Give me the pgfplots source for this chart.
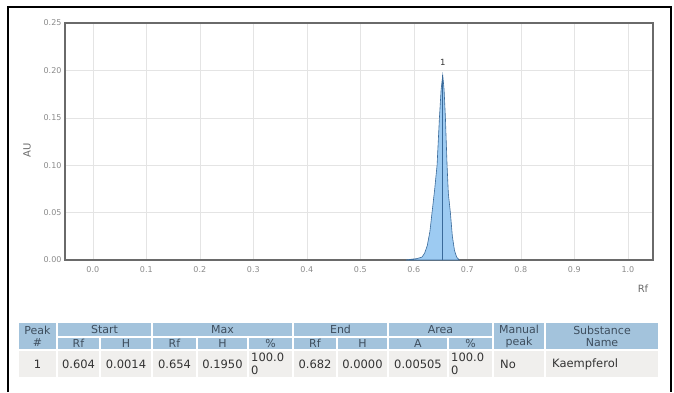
\documentclass[border=0pt]{standalone}
\usepackage{fontspec}
\setmainfont{DejaVu Sans}
\usepackage{pgfplots}
\pgfplotsset{compat=1.18}
\definecolor{hdr}{HTML}{A3C3DC}
\definecolor{hdrtext}{HTML}{3E4E5E}
\definecolor{rowbg}{HTML}{F0EFED}
\definecolor{txt}{HTML}{333333}
\definecolor{peakfill}{HTML}{9DCBF2}
\definecolor{peakline}{HTML}{3A6A9A}
\definecolor{axisgray}{HTML}{6A6A6A}
\definecolor{gridgray}{HTML}{E4E4E4}
\definecolor{ticktext}{HTML}{8A8A8A}
\newcommand{\hcell}[5]{%
  \fill[hdr] (#1+1,#3+1) rectangle (#2-1,#4-1);
  \node[text=hdrtext,font=\fontsize{11}{12}\selectfont,align=center] at ({(#1+#2)/2},{(#3+#4)/2}) {#5};}
\newcommand{\dcell}[3]{%
  \fill[rowbg] (#1+1,15) rectangle (#2-1,41);
  \node[text=txt,font=\fontsize{11.5}{13}\selectfont,align=center] at ({(#1+#2)/2},28) {#3};}
\begin{document}
\begin{tikzpicture}[x=1pt,y=1pt]
\useasboundingbox (0,0) rectangle (674,392);
\draw[line width=2.5pt] (8,0) -- (8,385) -- (671,385) -- (671,0);
\coordinate (axpos) at (65,132);
\begin{axis}[at={(axpos)}, anchor=south west, scale only axis,
  width=588pt, height=237pt,
  xmin=-0.052, xmax=1.047, ymin=0, ymax=0.25,
  xtick={0,0.1,...,1.0}, ytick={0,0.05,0.1,0.15,0.2,0.25},
  grid=major, major grid style={gridgray, line width=0.6pt},
  axis line style={axisgray, line width=1.6pt},
  major tick length=0pt,
  tick label style={text=ticktext, font=\fontsize{8}{9}\selectfont},
  /pgf/number format/assume math mode=true,
  xticklabel style={yshift=-3pt, /pgf/number format/.cd, fixed, fixed zerofill, precision=1},
  yticklabel style={/pgf/number format/.cd, fixed, fixed zerofill, precision=2},
  xtick pos=bottom, ytick pos=left,
]
\addplot[fill=peakfill, draw=peakline, line width=0.6pt] coordinates {
  (0.585,0) (0.595,0.0008) (0.605,0.0014) (0.615,0.003) (0.620,0.007)
  (0.625,0.015) (0.630,0.030) (0.634,0.050) (0.639,0.075) (0.6434,0.100)
  (0.6478,0.150) (0.651,0.180) (0.654,0.195) (0.6565,0.180) (0.659,0.150)
  (0.6621,0.100) (0.6645,0.070) (0.6683,0.050) (0.672,0.025) (0.676,0.010)
  (0.680,0.003) (0.685,0)} \closedcycle;
\addplot[peakline, line width=1.1pt] coordinates {(0.654,0) (0.654,0.195)};
\node[font=\fontsize{8.5}{9}\selectfont, text=txt] at (axis cs:0.654,0.208) {1};
\end{axis}
\node[rotate=90, text=axisgray, font=\fontsize{10}{11}\selectfont] at (27,242) {AU};
\node[text=axisgray, font=\fontsize{10}{11}\selectfont] at (643,103) {Rf};
% table header
\hcell{18}{57}{42}{70}{Peak\\\#}
\hcell{57}{152}{55}{70}{Start}
\hcell{57}{100}{42}{55}{Rf}
\hcell{100}{152}{42}{55}{H}
\hcell{152}{293}{55}{70}{Max}
\hcell{152}{197}{42}{55}{Rf}
\hcell{197}{248}{42}{55}{H}
\hcell{248}{293}{42}{55}{\%}
\hcell{293}{388}{55}{70}{End}
\hcell{293}{337}{42}{55}{Rf}
\hcell{337}{388}{42}{55}{H}
\hcell{388}{493}{55}{70}{Area}
\hcell{388}{448}{42}{55}{A}
\hcell{448}{493}{42}{55}{\%}
\hcell{493}{545}{42}{70}{Manual\\peak}
\hcell{545}{659}{42}{70}{Substance\\Name}
% data row
\dcell{18}{57}{1}
\dcell{57}{100}{0.604}
\dcell{100}{152}{0.0014}
\dcell{152}{197}{0.654}
\dcell{197}{248}{0.1950}
\fill[rowbg] (249,15) rectangle (292,41);
\node[text=txt,font=\fontsize{11.5}{13}\selectfont,align=left,anchor=west,inner sep=0pt] at (251,28) {100.0\\0};
\dcell{293}{337}{0.682}
\dcell{337}{388}{0.0000}
\dcell{388}{448}{0.00505}
\fill[rowbg] (449,15) rectangle (492,41);
\node[text=txt,font=\fontsize{11.5}{13}\selectfont,align=left,anchor=west,inner sep=0pt] at (451,28) {100.0\\0};
\fill[rowbg] (494,15) rectangle (544,41);
\node[text=txt,font=\fontsize{11.5}{13}\selectfont,anchor=west,inner sep=0pt] at (500,28) {No};
\fill[rowbg] (546,15) rectangle (658,41);
\node[text=txt,font=\fontsize{11.5}{13}\selectfont,anchor=west,inner sep=0pt] at (552,28) {Kaempferol};
\end{tikzpicture}
\end{document}
